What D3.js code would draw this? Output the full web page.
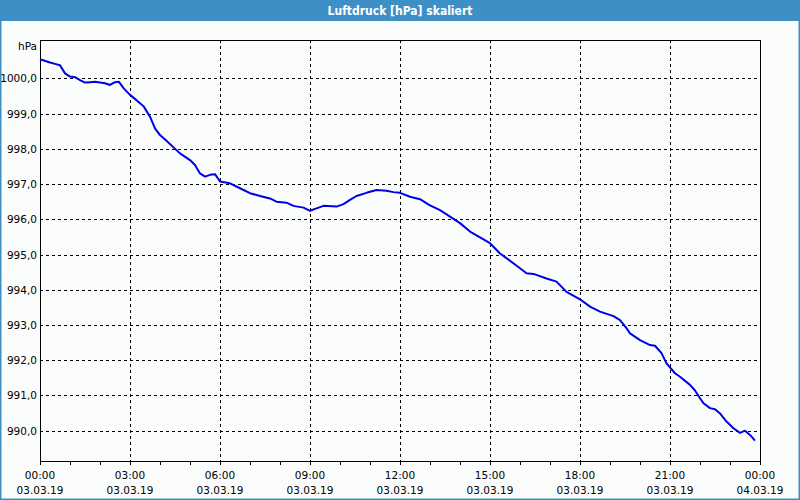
<!DOCTYPE html>
<html><head><meta charset="utf-8">
<script src="https://cdn.jsdelivr.net/npm/d3@7"></script>
<style>html,body{margin:0;padding:0;background:#fff;}svg{display:block;}</style>
</head><body>
<svg id="c" width="800" height="500"></svg>
<script>
const title = "Luftdruck [hPa] skaliert";
const unitLabel = "hPa";
// minutes since 03.03.19 00:00
const minutes = [0,20,30,40,50,60,70,80,90,100,110,120,130,140,150,158,167,180,193,207,220,230,240,253,267,280,300,310,320,330,340,350,360,380,400,420,440,460,473,493,507,527,540,553,567,593,607,620,633,653,673,693,707,720,740,760,779,800,840,860,900,920,960,973,987,1013,1033,1053,1080,1100,1120,1147,1160,1173,1180,1200,1220,1230,1243,1253,1270,1280,1300,1310,1320,1327,1340,1350,1360,1373,1387,1400,1410,1420,1430];
const pressure = [1000.54,1000.45,1000.41,1000.37,1000.14,1000.05,1000.03,999.95,999.88,999.89,999.90,999.88,999.86,999.81,999.89,999.90,999.72,999.53,999.38,999.21,998.91,998.58,998.39,998.23,998.04,997.87,997.68,997.54,997.30,997.21,997.26,997.28,997.07,997.02,996.88,996.74,996.66,996.59,996.50,996.47,996.38,996.33,996.24,996.31,996.38,996.36,996.43,996.55,996.66,996.75,996.83,996.81,996.77,996.75,996.64,996.57,996.40,996.26,995.89,995.65,995.32,995.03,994.61,994.47,994.45,994.32,994.23,993.94,993.73,993.52,993.38,993.25,993.14,992.91,992.76,992.57,992.43,992.41,992.20,991.91,991.63,991.53,991.30,991.14,990.92,990.78,990.64,990.61,990.49,990.26,990.07,989.94,990.00,989.88,989.72];
const yTicks = [990,991,992,993,994,995,996,997,998,999,1000];
const xTickHours = [0,3,6,9,12,15,18,21,24];
const xTimeLabels = ["00:00","03:00","06:00","09:00","12:00","15:00","18:00","21:00","00:00"];
const xDateLabels = ["03.03.19","03.03.19","03.03.19","03.03.19","03.03.19","03.03.19","03.03.19","03.03.19","04.03.19"];

const svg = d3.select("#c");
const W = 800, H = 500;
const L = 40, R = 760, T = 40, B = 461;
const font = "'DejaVu Sans', Verdana, sans-serif";

svg.append("rect").attr("x",0).attr("y",0).attr("width",W).attr("height",H).attr("fill","#fafdfb");
svg.append("rect").attr("x",0).attr("y",0).attr("width",W).attr("height",21).attr("fill","#3d8fc6");
svg.append("rect").attr("x",0.5).attr("y",0.5).attr("width",W-1).attr("height",H-1).attr("fill","none").attr("stroke","#3d8fc6").attr("stroke-width",2);
svg.append("text").attr("x",W/2).attr("y",14.5).attr("text-anchor","middle")
  .attr("font-family","Tahoma, 'DejaVu Sans Condensed', 'DejaVu Sans', sans-serif").attr("font-weight","bold").attr("font-size",12)
  .attr("fill","#ffffff").text(title);

const x = d3.scaleLinear().domain([0,1440]).range([L,R]);
const y = d3.scaleLinear().domain([990,1000]).range([430.7,78.3]);

// grid
const g = svg.append("g");
g.selectAll("line.h").data(yTicks).join("line")
  .attr("x1",L).attr("x2",R).attr("y1",d=>Math.round(y(d))+0.5).attr("y2",d=>Math.round(y(d))+0.5)
  .attr("stroke","#000").attr("stroke-width",1).attr("stroke-dasharray","3,3");
g.selectAll("line.v").data(xTickHours.slice(1,-1)).join("line")
  .attr("x1",d=>Math.round(x(d*60))+0.5).attr("x2",d=>Math.round(x(d*60))+0.5).attr("y1",T).attr("y2",B)
  .attr("stroke","#000").attr("stroke-width",1).attr("stroke-dasharray","3,3");

// hourly minor ticks
const hours = d3.range(0,25);
g.selectAll("line.t").data(hours).join("line")
  .attr("x1",d=>Math.round(x(d*60))+0.5).attr("x2",d=>Math.round(x(d*60))+0.5).attr("y1",B).attr("y2",B+4)
  .attr("stroke","#000").attr("stroke-width",1);

// frame
svg.append("rect").attr("x",L+0.5).attr("y",T+0.5).attr("width",R-L).attr("height",B-T)
  .attr("fill","none").attr("stroke","#000").attr("stroke-width",1);

// y labels
svg.selectAll("text.yl").data(yTicks).join("text")
  .attr("x",37).attr("y",d=>y(d)+4).attr("text-anchor","end")
  .attr("font-family",font).attr("font-size",10.5).attr("fill","#000")
  .text(d=>d3.format(".1f")(d).replace(".",","));
svg.append("text").attr("x",37).attr("y",50).attr("text-anchor","end")
  .attr("font-family",font).attr("font-size",10.5).attr("fill","#000").text(unitLabel);

// x labels
svg.selectAll("text.xl").data(xTickHours).join("text")
  .attr("x",(d)=>x(d*60)).attr("y",479).attr("text-anchor","middle")
  .attr("font-family",font).attr("font-size",10.5).attr("fill","#000")
  .text((d,i)=>xTimeLabels[i]);
svg.selectAll("text.xd").data(xTickHours).join("text")
  .attr("x",(d)=>x(d*60)).attr("y",494).attr("text-anchor","middle")
  .attr("font-family",font).attr("font-size",10.5).attr("fill","#000")
  .text((d,i)=>xDateLabels[i]);

// line
const pts = minutes.map((m,i)=>[m,pressure[i]]);
svg.append("path").datum(pts)
  .attr("fill","none").attr("stroke","#0000e6").attr("stroke-width",2).attr("stroke-linejoin","round")
  .attr("d", d3.line().x(d=>x(d[0])).y(d=>y(d[1])));
</script>
</body></html>
